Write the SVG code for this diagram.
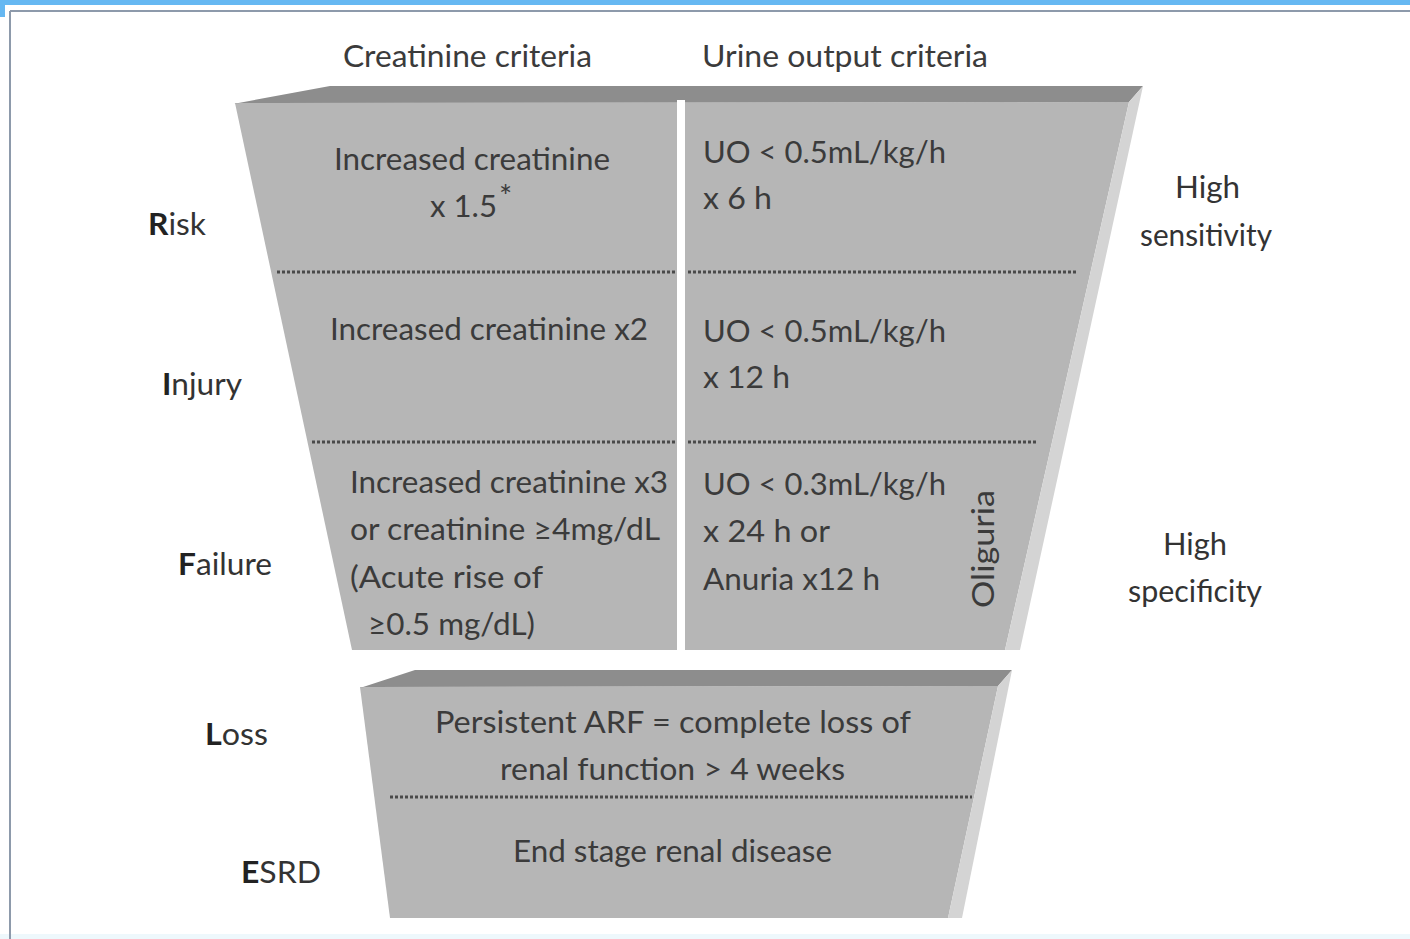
<svg xmlns="http://www.w3.org/2000/svg" width="1410" height="939" viewBox="0 0 1410 939">
<style>
.t{font-family:Lato,"Open Sans","Liberation Sans",sans-serif;fill:#3b3b3b;font-size:31px}
.side{font-family:Lato,"Open Sans","Liberation Sans",sans-serif;fill:#333;font-size:31px}
.b{font-weight:bold;fill:#222}
.front{fill:#b6b6b6}
.topf{fill:#8d8d8d}
.bevel{fill:#d4d4d4}
.dot{stroke:#4a4a4a;stroke-width:3;stroke-dasharray:3 2;fill:none}
</style>
<rect x="0" y="0" width="1410" height="939" fill="#ffffff"/>
<rect x="0" y="0" width="1410" height="5" fill="#66b8f2"/>
<rect x="0" y="0" width="5" height="17" fill="#66b8f2"/>
<rect x="0" y="934" width="1410" height="5" fill="#eef8fc"/>
<line x1="10" y1="11" x2="1410" y2="11" stroke="#8d9aab" stroke-width="2"/>
<line x1="10" y1="11" x2="10" y2="939" stroke="#8d9aab" stroke-width="2"/>

<g id="headers">
<text class="t" x="343" y="67" textLength="249" lengthAdjust="spacingAndGlyphs">Creatinine criteria</text>
<text class="t" x="702" y="67" textLength="286" lengthAdjust="spacingAndGlyphs">Urine output criteria</text>
</g>

<g id="upper-funnel">
<polygon class="front" points="235,103 1129,102 1005,650 352,650"/>
<polygon class="topf" points="233,104 330,86 1143,86 1129,102 240,103"/>
<polygon class="bevel" points="1129,102 1143,86 1020,650 1005,650"/>
<rect x="677" y="100" width="8" height="552" fill="#ffffff"/>
</g>

<g id="lower-funnel">
<polygon class="front" points="360,687 998,686 948,918 390,918"/>
<polygon class="topf" points="360,688 415,670 1012,670 998,686 364,687"/>
<polygon class="bevel" points="998,686 1012,670 962,918 948,918"/>
</g>

<g id="connectors">
<line class="dot" x1="277" y1="272" x2="675" y2="272"/>
<line class="dot" x1="688" y1="272" x2="1078" y2="272"/>
<line class="dot" x1="312" y1="442" x2="675" y2="442"/>
<line class="dot" x1="688" y1="442" x2="1038" y2="442"/>
<line class="dot" x1="390" y1="797" x2="972" y2="797"/>
</g>

<g id="risk">
<text class="side" x="148" y="235" textLength="58" lengthAdjust="spacingAndGlyphs"><tspan class="b">R</tspan>isk</text>
<text class="t" x="334" y="170" textLength="276" lengthAdjust="spacingAndGlyphs">Increased creatinine</text>
<text class="t" x="430" y="217" textLength="67" lengthAdjust="spacingAndGlyphs">x 1.5</text>
<text class="t" x="499" y="207" font-size="18">*</text>
<text class="t" x="703" y="163" textLength="243" lengthAdjust="spacingAndGlyphs">UO &lt; 0.5mL/kg/h</text>
<text class="t" x="703" y="209" textLength="69" lengthAdjust="spacingAndGlyphs">x 6 h</text>
<text class="side" x="1175" y="198" textLength="65" lengthAdjust="spacingAndGlyphs">High</text>
<text class="side" x="1140" y="246" textLength="132" lengthAdjust="spacingAndGlyphs">sensitivity</text>
</g>

<g id="injury">
<text class="side" x="162" y="395" textLength="80" lengthAdjust="spacingAndGlyphs"><tspan class="b">I</tspan>njury</text>
<text class="t" x="330" y="340" textLength="318" lengthAdjust="spacingAndGlyphs">Increased creatinine x2</text>
<text class="t" x="703" y="342" textLength="243" lengthAdjust="spacingAndGlyphs">UO &lt; 0.5mL/kg/h</text>
<text class="t" x="703" y="388" textLength="87" lengthAdjust="spacingAndGlyphs">x 12 h</text>
</g>

<g id="failure">
<text class="side" x="178" y="575" textLength="94" lengthAdjust="spacingAndGlyphs"><tspan class="b">F</tspan>ailure</text>
<text class="t" x="350" y="493" textLength="318" lengthAdjust="spacingAndGlyphs">Increased creatinine x3</text>
<text class="t" x="350" y="540" textLength="310" lengthAdjust="spacingAndGlyphs">or creatinine ≥4mg/dL</text>
<text class="t" x="350" y="588" textLength="193" lengthAdjust="spacingAndGlyphs">(Acute rise of</text>
<text class="t" x="368" y="635" textLength="167" lengthAdjust="spacingAndGlyphs">≥0.5 mg/dL)</text>
<text class="t" x="703" y="495" textLength="243" lengthAdjust="spacingAndGlyphs">UO &lt; 0.3mL/kg/h</text>
<text class="t" x="703" y="542" textLength="127" lengthAdjust="spacingAndGlyphs">x 24 h or</text>
<text class="t" x="703" y="590" textLength="177" lengthAdjust="spacingAndGlyphs">Anuria x12 h</text>
<text class="t" transform="translate(994,608) rotate(-90)" x="0" y="0" textLength="118" lengthAdjust="spacingAndGlyphs">Oliguria</text>
<text class="side" x="1163" y="555" textLength="64" lengthAdjust="spacingAndGlyphs">High</text>
<text class="side" x="1128" y="602" textLength="134" lengthAdjust="spacingAndGlyphs">specificity</text>
</g>

<g id="loss">
<text class="side" x="205" y="745" textLength="63" lengthAdjust="spacingAndGlyphs"><tspan class="b">L</tspan>oss</text>
<text class="t" x="435" y="733" textLength="476" lengthAdjust="spacingAndGlyphs">Persistent ARF = complete loss of</text>
<text class="t" x="500" y="780" textLength="345" lengthAdjust="spacingAndGlyphs">renal function &gt; 4 weeks</text>
</g>

<g id="esrd">
<text class="side" x="241" y="883" textLength="80" lengthAdjust="spacingAndGlyphs"><tspan class="b">E</tspan>SRD</text>
<text class="t" x="513" y="862" textLength="319" lengthAdjust="spacingAndGlyphs">End stage renal disease</text>
</g>
</svg>
